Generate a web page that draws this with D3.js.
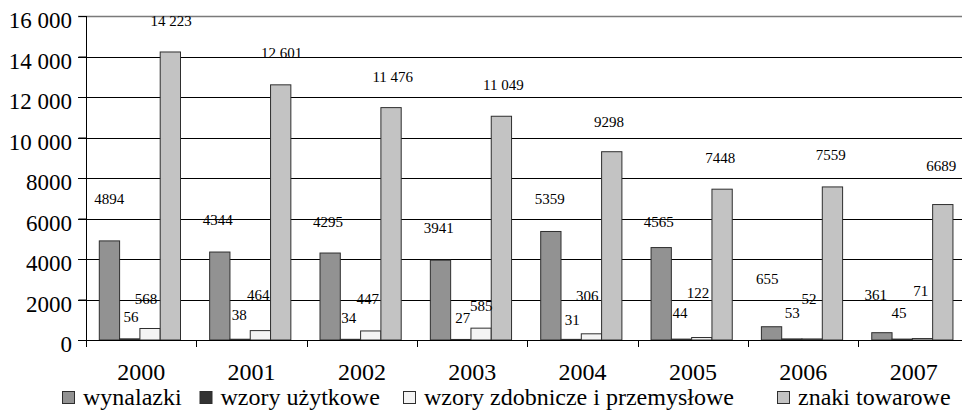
<!DOCTYPE html>
<html lang="pl">
<head>
<meta charset="utf-8">
<title>Zgłoszenia</title>
<script src="https://cdn.jsdelivr.net/npm/d3@7"></script>
<style>
  html, body { margin: 0; padding: 0; background: #fff; }
  svg, svg text { font-family: "Liberation Serif", "Times New Roman", serif; }
  svg { display: block; }
</style>
</head>
<body>
<svg id="chart" width="962" height="410"></svg>
<script>
// Data
const years = ["2000", "2001", "2002", "2003", "2004", "2005", "2006", "2007"];
const seriesNames = ["wynalazki", "wzory użytkowe", "wzory zdobnicze i przemysłowe", "znaki towarowe"];
const wynalazki = [4894, 4344, 4295, 3941, 5359, 4565, 655, 361];
const wzoryUzytkowe = [56, 38, 34, 27, 31, 44, 53, 45];
const wzoryZdobnicze = [568, 464, 447, 585, 306, 122, 52, 71];
const znakiTowarowe = [14223, 12601, 11476, 11049, 9298, 7448, 7559, 6689];
const yTicks = [0, 2000, 4000, 6000, 8000, 10000, 12000, 14000, 16000];

const seriesValues = [wynalazki, wzoryUzytkowe, wzoryZdobnicze, znakiTowarowe];
const seriesColors = ["#929292", "#333333", "#f4f4f4", "#c3c3c3"];

// Hand-placed label offsets (px) relative to the bar centre / bar top
const labelDx = [
  [-0.2, -2.1, -2.2, -1.8, -1.2, -2.5, -4.3, -6.2],
  [1.3, -0.8, -1.8, 1.9, 1.2, -1.5, 0.5, -3.2],
  [-4, -2.1, -3, 0.2, -4.2, -3.8, -3.2, -1.8],
  [0.7, 1, 1.7, 1.9, -2.8, -1.8, -1.8, -1.5]
];
const labelDy = [
  [-41.9, -32, -31.3, -31.9, -32.5, -25.9, -47.7, -37.7],
  [-22.2, -24.2, -21.6, -21.5, -19.4, -25.8, -25.6, -25.8],
  [-29.8, -35.6, -32.2, -22.2, -38.1, -44.2, -39.9, -47.6],
  [-31.3, -32.1, -30.3, -31, -30, -30.9, -31.9, -38.8]
];

// Polish number style: space separator only for five digits and more
const pl = d3.formatLocale({ decimal: ",", thousands: " ", grouping: [3], currency: ["", " zł"] });
const fmtGroup = pl.format(",d");
const fmt = v => (Math.abs(v) >= 10000 ? fmtGroup(v) : String(v));

const serif = '"Liberation Serif", "Times New Roman", serif';
const svg = d3.select("#chart");
const plotLeft = 86, plotRight = 968.8, plotTop = 16, plotBottom = 340;

const x = d3.scaleBand().domain(years).range([plotLeft, plotRight]).paddingInner(0).paddingOuter(0);
const xs = d3.scaleBand().domain(d3.range(seriesNames.length)).range([13.3, 94.5]).padding(0);
const y = d3.scaleLinear().domain([0, 16000]).range([plotBottom, plotTop]);

// Gridlines
svg.append("g")
  .selectAll("line")
  .data(yTicks.filter(t => t > 0))
  .join("line")
  .attr("x1", plotLeft - 8).attr("x2", plotRight)
  .attr("y1", d => Math.round(y(d)) + 0.5).attr("y2", d => Math.round(y(d)) + 0.5)
  .attr("stroke", d => (d === 16000 ? "#7a7a7a" : "#000"))
  .attr("stroke-width", d => (d === 16000 ? 1.6 : 1));

// Y axis
const yAxis = d3.axisLeft(y).tickValues(yTicks).tickSize(8).tickPadding(6).tickFormat(fmt);
const gy = svg.append("g").attr("transform", `translate(${plotLeft + 0.5},0)`).call(yAxis);
gy.attr("font-family", null).attr("font-size", null);
gy.select(".domain").remove();
gy.selectAll(".tick line").attr("stroke", "#000");
gy.selectAll(".tick text")
  .style("font-family", serif)
  .style("font-size", "23px")
  .attr("fill", "#000")
  .attr("dy", null)
  .attr("y", 11.5)
  .attr("x", -14.5);
svg.append("line")
  .attr("x1", plotLeft + 0.5).attr("x2", plotLeft + 0.5)
  .attr("y1", plotTop).attr("y2", plotBottom + 7)
  .attr("stroke", "#000");

// Bars
const groups = svg.append("g")
  .selectAll("g")
  .data(years)
  .join("g")
  .attr("transform", d => `translate(${x(d)},0)`);

groups.selectAll("rect")
  .data((d, i) => seriesValues.map((vals, s) => ({ s, v: vals[i] })))
  .join("rect")
  .attr("x", d => xs(d.s))
  .attr("width", xs.bandwidth())
  .attr("y", d => y(d.v))
  .attr("height", d => y(0) - y(d.v))
  .attr("fill", d => seriesColors[d.s])
  .attr("stroke", "#2e2e2e")
  .attr("stroke-width", 1);

// Value labels
groups.selectAll("text")
  .data((d, i) => seriesValues.map((vals, s) => ({ s, i, v: vals[i] })))
  .join("text")
  .attr("x", d => xs(d.s) + xs.bandwidth() / 2 + labelDx[d.s][d.i])
  .attr("y", d => y(d.v) + labelDy[d.s][d.i] + 5)
  .attr("text-anchor", "middle")
  .style("font-family", serif)
  .style("font-size", "15px")
  .attr("fill", "#000")
  .text(d => fmt(d.v));

// X axis
svg.append("line")
  .attr("x1", plotLeft - 8).attr("x2", plotRight)
  .attr("y1", plotBottom + 0.5).attr("y2", plotBottom + 0.5)
  .attr("stroke", "#000");
svg.append("g")
  .selectAll("line")
  .data(years.slice(1))
  .join("line")
  .attr("x1", d => Math.round(x(d)) + 0.5).attr("x2", d => Math.round(x(d)) + 0.5)
  .attr("y1", plotBottom).attr("y2", plotBottom + 7)
  .attr("stroke", "#000");
svg.append("g")
  .selectAll("text")
  .data(years)
  .join("text")
  .attr("x", d => x(d) + x.bandwidth() / 2)
  .attr("y", 380)
  .attr("text-anchor", "middle")
  .style("font-family", serif)
  .style("font-size", "24px")
  .attr("fill", "#000")
  .text(d => d);

// Legend
const legendX = [62, 199.5, 403, 777];
const legend = svg.append("g")
  .selectAll("g")
  .data(seriesNames)
  .join("g")
  .attr("transform", (d, i) => `translate(${legendX[i]},0)`);
legend.append("rect")
  .attr("x", 0.5).attr("y", 391.5)
  .attr("width", 12).attr("height", 12)
  .attr("fill", (d, i) => seriesColors[i])
  .attr("stroke", "#2e2e2e");
legend.append("text")
  .attr("x", 21).attr("y", 405)
  .style("font-family", serif)
  .style("font-size", "24px")
  .attr("fill", "#000")
  .text(d => d);
</script>
</body>
</html>
